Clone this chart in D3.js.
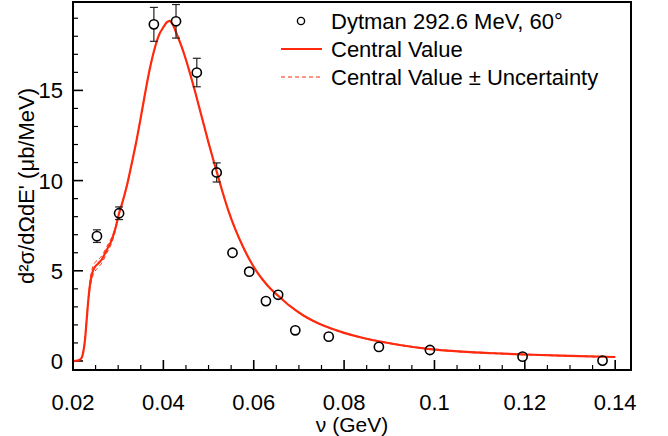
<!DOCTYPE html>
<html>
<head>
<meta charset="utf-8">
<script src="https://cdn.jsdelivr.net/npm/d3@7"></script>
<style>
  html, body { margin: 0; padding: 0; background: #fff; }
  svg { display: block; }
  text { font-family: "Liberation Sans", Arial, Helvetica, sans-serif; }
</style>
</head>
<body>
<svg id="chart" width="668" height="436"></svg>
<script>
// ---- data ----
const dataNu   = [0.0253, 0.0302, 0.0379, 0.0428, 0.0474, 0.0518, 0.0553, 0.0590, 0.0627, 0.0654, 0.0692, 0.0766, 0.0877, 0.0990, 0.1195, 0.1372];
const dataXsec = [6.92, 8.19, 18.66, 18.83, 15.99, 10.45, 6.00, 4.95, 3.32, 3.67, 1.70, 1.35, 0.78, 0.61, 0.24, 0.02];
const dataErr  = [0.35, 0.35, 0.94, 0.93, 0.79, 0.53, 0.25, 0.15, 0.10, 0.12, 0.08, 0.06, 0.05, 0.04, 0.03, 0.02];

const curveNu = [0.0200, 0.0210, 0.0217, 0.0222, 0.02265, 0.0230, 0.02339, 0.02375, 0.02414, 0.0245, 0.02487, 0.0256, 0.02635, 0.02746, 0.02856, 0.0295, 0.0300, 0.0310, 0.0320, 0.0330, 0.0340, 0.0350, 0.0360, 0.0370, 0.0380, 0.0390, 0.0400, 0.0408, 0.0414, 0.0420, 0.0430, 0.0440, 0.0450, 0.0460, 0.0470, 0.0480, 0.0490, 0.0500, 0.0510, 0.0518, 0.0530, 0.0545, 0.0560, 0.0575, 0.0590, 0.0606, 0.0620, 0.0635, 0.0654, 0.0680, 0.0710, 0.0740, 0.0770, 0.0800, 0.0840, 0.0880, 0.0930, 0.0990, 0.1060, 0.1130, 0.1200, 0.1300, 0.1400];
const centralValue = [0.00, 0.02, 0.10, 0.40, 1.16, 2.20, 3.38, 4.20, 4.76, 5.05, 5.22, 5.41, 5.62, 6.15, 6.70, 7.45, 8.00, 8.85, 9.80, 10.95, 12.15, 13.50, 14.90, 16.20, 17.25, 18.05, 18.50, 18.78, 18.85, 18.68, 18.10, 17.45, 16.70, 15.85, 14.95, 14.00, 13.05, 12.10, 11.20, 10.50, 9.45, 8.25, 7.25, 6.40, 5.65, 4.98, 4.50, 4.06, 3.62, 3.05, 2.52, 2.12, 1.81, 1.56, 1.29, 1.08, 0.86, 0.66, 0.52, 0.43, 0.36, 0.28, 0.22];
const upperValue   = [0.00, 0.02, 0.11, 0.42, 1.20, 2.26, 3.48, 4.38, 5.00, 5.30, 5.46, 5.63, 5.82, 6.33, 6.85, 7.53, 8.03, 8.88, 9.82, 10.97, 12.17, 13.52, 14.92, 16.22, 17.27, 18.07, 18.52, 18.80, 18.87, 18.70, 18.12, 17.47, 16.72, 15.87, 14.97, 14.02, 13.07, 12.12, 11.22, 10.52, 9.47, 8.27, 7.27, 6.42, 5.67, 5.00, 4.52, 4.08, 3.64, 3.07, 2.54, 2.14, 1.83, 1.58, 1.31, 1.10, 0.88, 0.68, 0.54, 0.45, 0.38, 0.30, 0.24];
const lowerValue   = [0.00, 0.02, 0.09, 0.38, 1.12, 2.14, 3.28, 4.02, 4.52, 4.80, 4.98, 5.19, 5.42, 5.97, 6.55, 7.37, 7.97, 8.82, 9.78, 10.93, 12.13, 13.48, 14.88, 16.18, 17.23, 18.03, 18.48, 18.76, 18.83, 18.66, 18.08, 17.43, 16.68, 15.83, 14.93, 13.98, 13.03, 12.08, 11.18, 10.48, 9.43, 8.23, 7.23, 6.38, 5.63, 4.96, 4.48, 4.04, 3.60, 3.03, 2.50, 2.10, 1.79, 1.54, 1.27, 1.06, 0.84, 0.64, 0.50, 0.41, 0.34, 0.26, 0.20];

const xTickValues = [0.02, 0.04, 0.06, 0.08, 0.1, 0.12, 0.14];
const xTickLabels = ["0.02", "0.04", "0.06", "0.08", "0.1", "0.12", "0.14"];
const yTickValues = [0, 5, 10, 15];
const yTickLabels = ["0", "5", "10", "15"];
const legendLabels = ["Dytman 292.6 MeV, 60°", "Central Value", "Central Value ± Uncertainty"];

// ---- layout ----
const L = 73, R = 631, T = 2, B = 370;
const RED = "#ff2a0d";
const svg = d3.select("#chart");
const x = d3.scaleLinear().domain([0.02, 0.1435]).range([L, R]);
const y = d3.scaleLinear().domain([-0.5, 19.9]).range([B, T]);

const g = svg.append("g");

// minor ticks
const xMinor = d3.range(0.02, 0.1401, 0.005).filter(v => xTickValues.every(t => Math.abs(t - v) > 1e-6));
const yMinor = d3.range(0, 19.5, 1).filter(v => v % 5 !== 0);

g.selectAll(".xmaj").data(xTickValues).join("line")
  .attr("x1", d => x(d)).attr("x2", d => x(d)).attr("y1", B).attr("y2", B - 10)
  .attr("stroke", "#000").attr("stroke-width", 1.6);
g.selectAll(".xmin").data(xMinor).join("line")
  .attr("x1", d => x(d)).attr("x2", d => x(d)).attr("y1", B).attr("y2", B - 5)
  .attr("stroke", "#000").attr("stroke-width", 1.2);
g.selectAll(".ymaj").data(yTickValues).join("line")
  .attr("x1", L).attr("x2", L + 10).attr("y1", d => y(d)).attr("y2", d => y(d))
  .attr("stroke", "#000").attr("stroke-width", 1.6);
g.selectAll(".ymin").data(yMinor).join("line")
  .attr("x1", L).attr("x2", L + 5).attr("y1", d => y(d)).attr("y2", d => y(d))
  .attr("stroke", "#000").attr("stroke-width", 1.2);

// tick labels
g.selectAll(".xl").data(xTickValues).join("text")
  .attr("x", d => x(d)).attr("y", 410).attr("text-anchor", "middle")
  .attr("font-size", 22).attr("fill", "#000")
  .text((d, i) => xTickLabels[i]);
g.selectAll(".yl").data(yTickValues).join("text")
  .attr("x", 63).attr("y", d => y(d) + 8).attr("text-anchor", "end")
  .attr("font-size", 22).attr("fill", "#000")
  .text((d, i) => yTickLabels[i]);

// axis titles
g.append("text").attr("x", 352).attr("y", 432).attr("text-anchor", "middle")
  .attr("font-size", 21).text("ν (GeV)");
g.append("text").attr("transform", "translate(34,186) rotate(-90)")
  .attr("text-anchor", "middle").attr("font-size", 22)
  .text("d²σ/dΩdE' (μb/MeV)");

// curves
const line = d3.line().x(d => x(d[0])).y(d => y(d[1])).curve(d3.curveMonotoneX);
const pts = arr => curveNu.map((v, i) => [v, arr[i]]);
g.append("path").attr("d", line(pts(upperValue))).attr("fill", "none")
  .attr("stroke", RED).attr("stroke-width", 1).attr("stroke-dasharray", "4,3");
g.append("path").attr("d", line(pts(lowerValue))).attr("fill", "none")
  .attr("stroke", RED).attr("stroke-width", 1).attr("stroke-dasharray", "4,3");
g.append("path").attr("d", line(pts(centralValue))).attr("fill", "none")
  .attr("stroke", RED).attr("stroke-width", 2.2);

// data points with error bars
const r = 4.6;
const dp = dataNu.map((v, i) => ({ x: v, y: dataXsec[i], e: dataErr[i] }));
const eg = g.append("g").attr("stroke", "#222").attr("stroke-width", 1.2);
dp.forEach(d => {
  const cx = x(d.x), cy = y(d.y);
  const top = y(d.y + d.e), bot = y(d.y - d.e);
  if (cy - top > r + 1) {
    eg.append("line").attr("x1", cx).attr("x2", cx).attr("y1", cy - r).attr("y2", top);
    eg.append("line").attr("x1", cx - 4).attr("x2", cx + 4).attr("y1", top).attr("y2", top);
  }
  if (bot - cy > r + 1) {
    eg.append("line").attr("x1", cx).attr("x2", cx).attr("y1", cy + r).attr("y2", bot);
    eg.append("line").attr("x1", cx - 4).attr("x2", cx + 4).attr("y1", bot).attr("y2", bot);
  }
});
g.selectAll(".pt").data(dp).join("circle")
  .attr("cx", d => x(d.x)).attr("cy", d => y(d.y)).attr("r", r)
  .attr("fill", "none").attr("stroke", "#000").attr("stroke-width", 1.6);

// frame
g.append("rect").attr("x", L).attr("y", T).attr("width", R - L).attr("height", B - T)
  .attr("fill", "none").attr("stroke", "#000").attr("stroke-width", 2);

// legend
const lg = g.append("g");
lg.append("circle").attr("cx", 301).attr("cy", 21).attr("r", 3.6)
  .attr("fill", "none").attr("stroke", "#000").attr("stroke-width", 1.4);
lg.append("line").attr("x1", 281).attr("x2", 322).attr("y1", 49).attr("y2", 49)
  .attr("stroke", RED).attr("stroke-width", 2.2);
lg.append("line").attr("x1", 281).attr("x2", 322).attr("y1", 77).attr("y2", 77)
  .attr("stroke", RED).attr("stroke-width", 1).attr("stroke-dasharray", "4,3");
lg.selectAll(".lt").data(legendLabels).join("text")
  .attr("x", 331).attr("y", (d, i) => 28.5 + i * 28.3)
  .attr("font-size", 22).attr("fill", "#000").text(d => d);
</script>
</body>
</html>
